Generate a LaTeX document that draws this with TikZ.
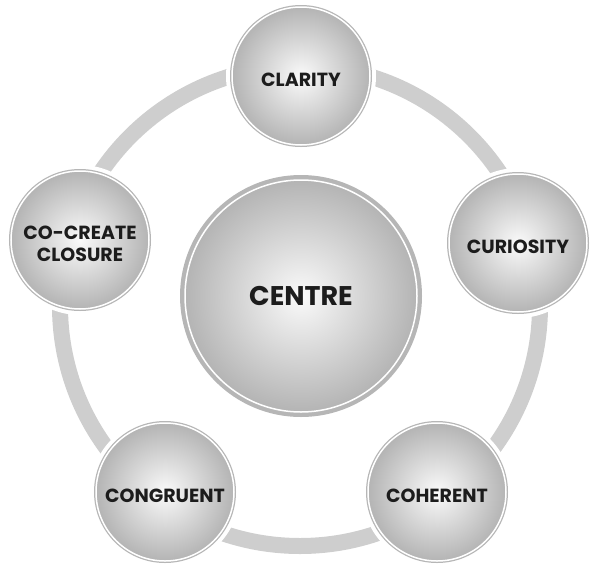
\documentclass[tikz,border=0pt]{standalone}
\usepackage{fontspec}
\setmainfont{Poppins}
\definecolor{ringgray}{RGB}{206,206,206}
\definecolor{edgegray}{RGB}{182,182,182}
\definecolor{innerc}{RGB}{250,250,250}
\definecolor{outerc}{RGB}{180,180,180}
\definecolor{txt}{RGB}{28,28,28}
\tikzset{
  ball/.style={circle, inner sep=0pt, align=center, text=txt,
    font=\bfseries\fontsize{19}{22}\selectfont,
    shading=radial, inner color=innerc, outer color=outerc,
    preaction={draw=edgegray, line width=4pt},
    draw=white, line width=1.5pt},
  satball/.style={ball, minimum size=138pt, text height=20pt, text depth=0pt},
  bigball/.style={ball, minimum size=232pt,
    preaction={draw=edgegray, line width=10pt},
    font=\bfseries\fontsize{27}{30}\selectfont},
  halo/.style={fill=white}
}
\begin{document}
\begin{tikzpicture}[x=1pt,y=-1pt]
\useasboundingbox (0,0) rectangle (600,573);
\coordinate (ringc) at (300,306);
\draw[ringgray, line width=16pt] (ringc) circle[radius=240];
\coordinate (pA) at (301,76);
\coordinate (pB) at (518,243);
\coordinate (pC) at (437,492);
\coordinate (pD) at (165,492);
\coordinate (pE) at (80,240);
\foreach \p in {pA,pB,pC,pD,pE}{\fill[halo] (\p) circle[radius=75];}
\node[bigball] (centre) at (301,296) {CENTRE};
\node[satball] (clarity) at (pA) {CLARITY};
\node[satball] (curiosity) at (pB) {CURIOSITY};
\node[satball] (coherent) at (pC) {COHERENT};
\node[satball] (congruent) at (pD) {CONGRUENT};
\node[satball, text height=43pt] (closure) at (pE) {CO-CREATE\\CLOSURE};
\end{tikzpicture}
\end{document}
